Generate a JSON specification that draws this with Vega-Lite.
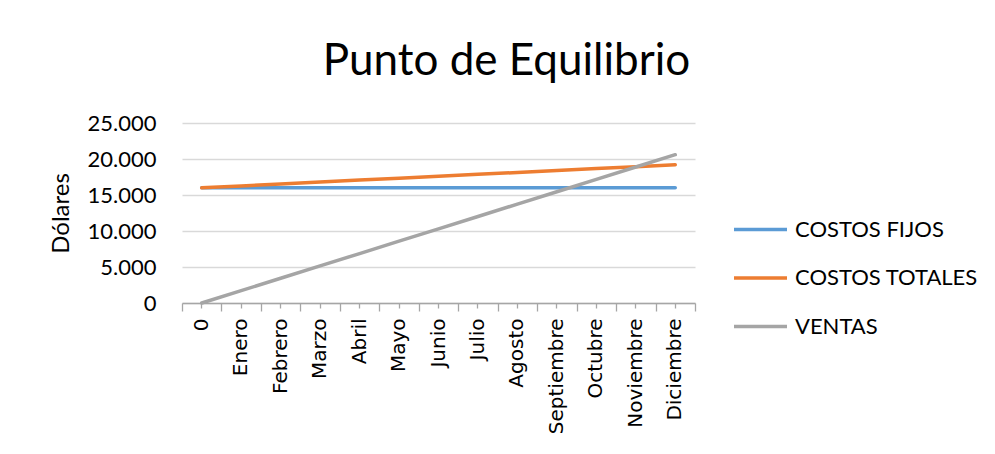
{
  "$schema": "https://vega.github.io/schema/vega-lite/v6.json",
  "autosize": "none",
  "padding": {"left": 182, "top": 123, "right": 300, "bottom": 151},
  "width": 513,
  "height": 180,
  "background": "white",
  "title": {"text": "Punto de Equilibrio", "font": "Lato", "fontSize": 44, "fontWeight": "normal", "color": "#000000", "anchor": "middle", "frame": "bounds", "baseline": "alphabetic", "offset": -7, "dx": -7},
  "data": {"values": [
    {"mes": "0", "serie": "COSTOS FIJOS", "valor": 16000},
    {"mes": "Enero", "serie": "COSTOS FIJOS", "valor": 16000},
    {"mes": "Febrero", "serie": "COSTOS FIJOS", "valor": 16000},
    {"mes": "Marzo", "serie": "COSTOS FIJOS", "valor": 16000},
    {"mes": "Abril", "serie": "COSTOS FIJOS", "valor": 16000},
    {"mes": "Mayo", "serie": "COSTOS FIJOS", "valor": 16000},
    {"mes": "Junio", "serie": "COSTOS FIJOS", "valor": 16000},
    {"mes": "Julio", "serie": "COSTOS FIJOS", "valor": 16000},
    {"mes": "Agosto", "serie": "COSTOS FIJOS", "valor": 16000},
    {"mes": "Septiembre", "serie": "COSTOS FIJOS", "valor": 16000},
    {"mes": "Octubre", "serie": "COSTOS FIJOS", "valor": 16000},
    {"mes": "Noviembre", "serie": "COSTOS FIJOS", "valor": 16000},
    {"mes": "Diciembre", "serie": "COSTOS FIJOS", "valor": 16000},
    {"mes": "0", "serie": "COSTOS TOTALES", "valor": 16000},
    {"mes": "Enero", "serie": "COSTOS TOTALES", "valor": 16267},
    {"mes": "Febrero", "serie": "COSTOS TOTALES", "valor": 16533},
    {"mes": "Marzo", "serie": "COSTOS TOTALES", "valor": 16800},
    {"mes": "Abril", "serie": "COSTOS TOTALES", "valor": 17067},
    {"mes": "Mayo", "serie": "COSTOS TOTALES", "valor": 17333},
    {"mes": "Junio", "serie": "COSTOS TOTALES", "valor": 17600},
    {"mes": "Julio", "serie": "COSTOS TOTALES", "valor": 17867},
    {"mes": "Agosto", "serie": "COSTOS TOTALES", "valor": 18133},
    {"mes": "Septiembre", "serie": "COSTOS TOTALES", "valor": 18400},
    {"mes": "Octubre", "serie": "COSTOS TOTALES", "valor": 18667},
    {"mes": "Noviembre", "serie": "COSTOS TOTALES", "valor": 18933},
    {"mes": "Diciembre", "serie": "COSTOS TOTALES", "valor": 19200},
    {"mes": "0", "serie": "VENTAS", "valor": 0},
    {"mes": "Enero", "serie": "VENTAS", "valor": 1717},
    {"mes": "Febrero", "serie": "VENTAS", "valor": 3433},
    {"mes": "Marzo", "serie": "VENTAS", "valor": 5150},
    {"mes": "Abril", "serie": "VENTAS", "valor": 6867},
    {"mes": "Mayo", "serie": "VENTAS", "valor": 8583},
    {"mes": "Junio", "serie": "VENTAS", "valor": 10300},
    {"mes": "Julio", "serie": "VENTAS", "valor": 12017},
    {"mes": "Agosto", "serie": "VENTAS", "valor": 13733},
    {"mes": "Septiembre", "serie": "VENTAS", "valor": 15450},
    {"mes": "Octubre", "serie": "VENTAS", "valor": 17167},
    {"mes": "Noviembre", "serie": "VENTAS", "valor": 18883},
    {"mes": "Diciembre", "serie": "VENTAS", "valor": 20600}
  ]},
  "encoding": {
    "y": {
      "field": "valor", "type": "quantitative",
      "scale": {"domain": [0, 25000], "nice": false, "zero": true},
      "axis": {
        "title": "Dólares", "titleFont": "Lato", "titleFontSize": 24, "titleFontWeight": "normal", "titleColor": "#000000", "titlePadding": 14,
        "values": [0, 5000, 10000, 15000, 20000, 25000],
        "labelExpr": "replace(format(datum.value, ','), ',', '.')",
        "labelFont": "Lato", "labelFontSize": 22, "labelColor": "#000000", "labelPadding": 26,
        "ticks": false, "tickSize": 0, "domain": false,
        "grid": true, "gridColor": "#d9d9d9", "gridWidth": 1.3
      }
    }
  },
  "layer": [
    {
      "mark": {"type": "line", "strokeWidth": 3.5, "strokeCap": "round", "strokeJoin": "round"},
      "encoding": {
        "x": {
          "field": "mes", "type": "nominal", "sort": null,
          "scale": {"type": "band", "paddingInner": 0, "paddingOuter": 0},
          "axis": {
            "orient": "bottom", "title": null, "grid": false,
            "labelAngle": -90, "labelFont": "DejaVu Sans", "labelFontSize": 20, "labelColor": "#000000", "labelPadding": 10,
            "tickBand": "center", "tickSize": 5, "tickColor": "#a6a6a6", "tickWidth": 1.3,
            "domain": true, "domainColor": "#a6a6a6", "domainWidth": 1.3
          }
        },
        "color": {
          "field": "serie", "type": "nominal",
          "scale": {"domain": ["COSTOS FIJOS", "COSTOS TOTALES", "VENTAS"], "range": ["#5b9bd5", "#ed7d31", "#a5a5a5"]},
          "legend": {
            "title": null, "orient": "none", "legendX": 550, "legendY": 78,
            "symbolType": "stroke", "symbolSize": 2809, "symbolStrokeWidth": 3.5,
            "labelFont": "Lato", "labelFontSize": 22, "labelColor": "#000000", "labelOffset": 6, "labelLimit": 400,
            "rowPadding": 8.5, "padding": 0
          }
        }
      }
    },
    {
      "mark": {"type": "line", "opacity": 0},
      "encoding": {
        "x": {
          "field": "mes", "type": "nominal", "sort": null,
          "scale": {"type": "band", "paddingInner": 0, "paddingOuter": 0},
          "axis": {
            "orient": "bottom", "title": null, "grid": false, "labels": false,
            "tickBand": "extent", "tickSize": 8, "tickColor": "#a6a6a6", "tickWidth": 1.3,
            "domain": false
          }
        },
        "detail": {"field": "serie", "type": "nominal"}
      }
    }
  ],
  "resolve": {"axis": {"x": "independent"}},
  "config": {"view": {"stroke": null}}
}
